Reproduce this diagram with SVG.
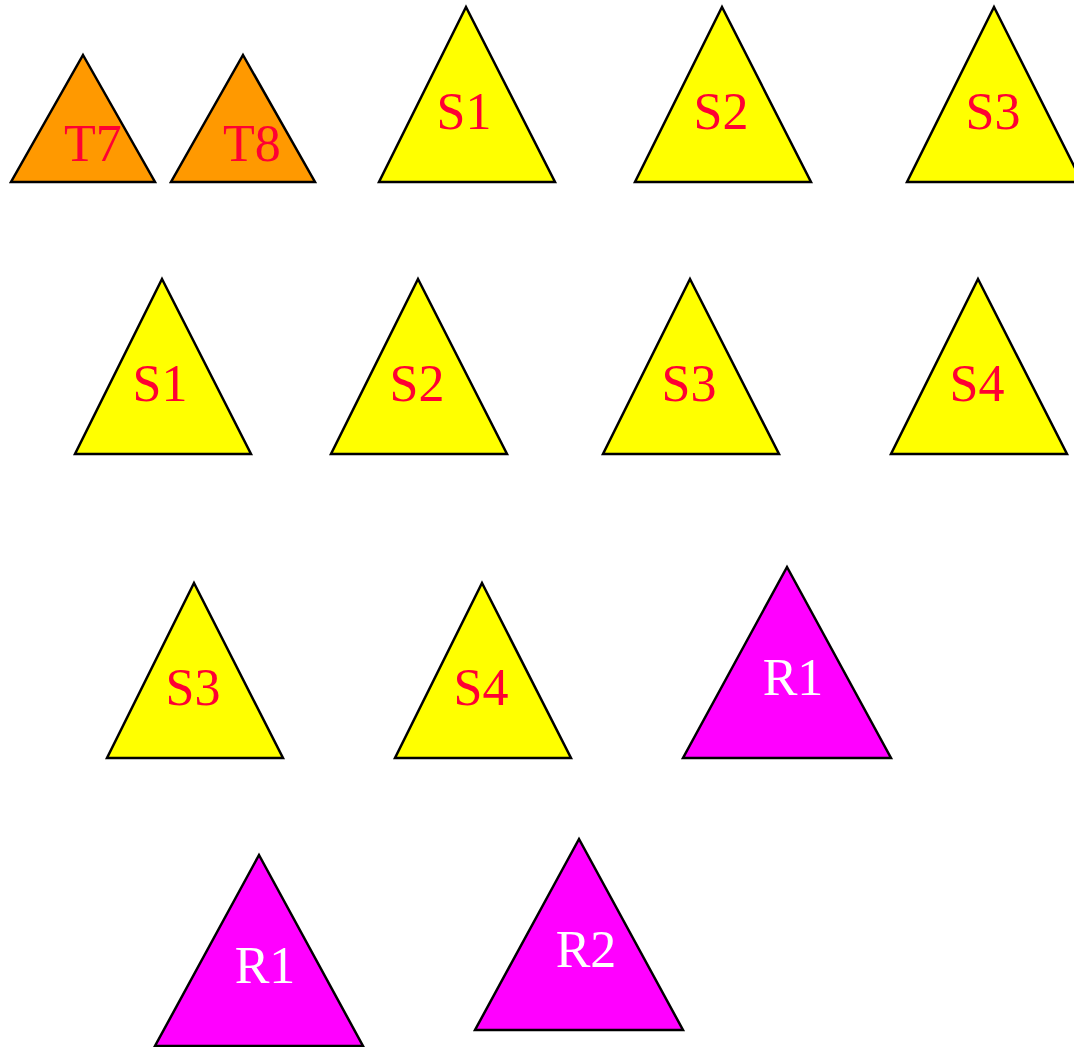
<svg xmlns="http://www.w3.org/2000/svg" width="1074" height="1047" viewBox="0 0 1074 1047">
<style>
polygon{stroke:#000;stroke-width:2.5;stroke-linejoin:miter}
.o{fill:#FF9900}.y{fill:#FFFF00}.m{fill:#FF00FF}
text{font-family:"Liberation Serif","Times New Roman",serif;font-size:52px;text-anchor:middle}
.r{fill:#FF0033}.w{fill:#FFFFFF}
</style>
<rect width="1074" height="1047" fill="#fff"/>
<g id="connectors"/>
<g id="t7"><polygon class="o" points="83,55 155,182 11,182"/><text class="r" x="93" y="161">T7</text></g>
<g id="t8"><polygon class="o" points="243,55 315,182 171,182"/><text class="r" x="252" y="161">T8</text></g>
<g id="s1a"><polygon class="y" points="466,7 555,182 379,182"/><text class="r" x="464" y="129">S1</text></g>
<g id="s2a"><polygon class="y" points="722,7 811,182 635,182"/><text class="r" x="721" y="129">S2</text></g>
<g id="s3a"><polygon class="y" points="994,7 1082,182 907,182"/><text class="r" x="993" y="129">S3</text></g>
<g id="s1b"><polygon class="y" points="162,279 251,454 75,454"/><text class="r" x="160" y="401">S1</text></g>
<g id="s2b"><polygon class="y" points="418,279 507,454 331,454"/><text class="r" x="417" y="401">S2</text></g>
<g id="s3b"><polygon class="y" points="690,279 779,454 603,454"/><text class="r" x="689" y="401">S3</text></g>
<g id="s4b"><polygon class="y" points="978,279 1067,454 891,454"/><text class="r" x="977" y="401">S4</text></g>
<g id="s3c"><polygon class="y" points="194,583 283,758 107,758"/><text class="r" x="193" y="705">S3</text></g>
<g id="s4c"><polygon class="y" points="482,583 571,758 395,758"/><text class="r" x="481" y="705">S4</text></g>
<g id="r1a"><polygon class="m" points="787,567 891,758 683,758"/><text class="w" x="793" y="695">R1</text></g>
<g id="r1b"><polygon class="m" points="259,855 363,1046 155,1046"/><text class="w" x="265" y="983">R1</text></g>
<g id="r2"><polygon class="m" points="579,839 683,1030 475,1030"/><text class="w" x="586" y="967">R2</text></g>
</svg>
